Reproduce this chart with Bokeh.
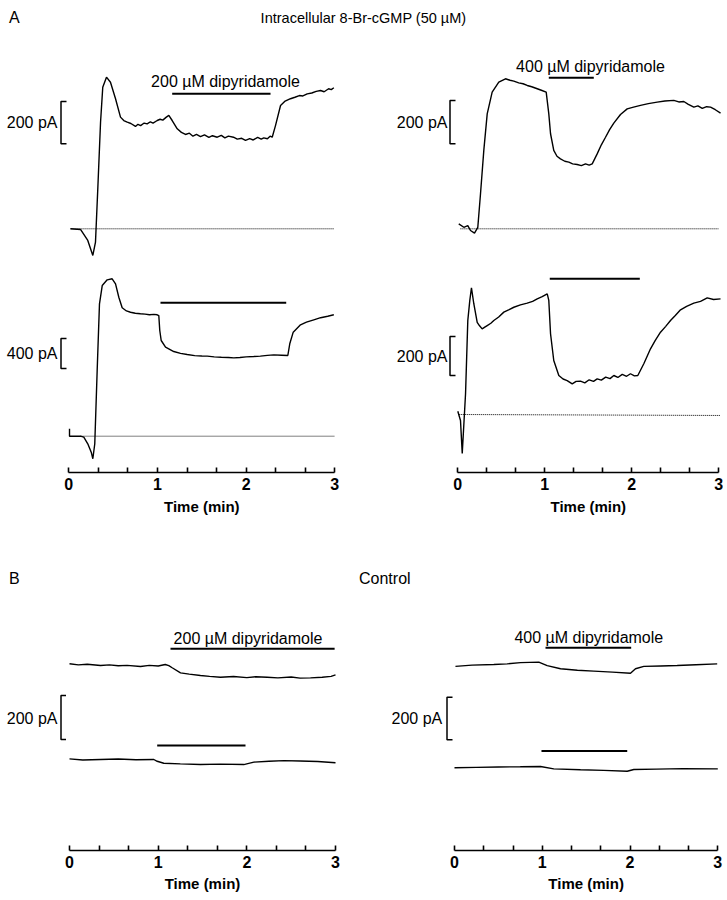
from bokeh.plotting import figure
from bokeh.models import Range1d, Label, FixedTicker
from bokeh.layouts import column, row
from bokeh.embed import file_html
from bokeh.resources import INLINE

# ---------------- data: time (min), current (pA) ----------------
# A, top-left cell (200 uM dipyridamole)
tl_t = [0.019, 0.132, 0.214, 0.271, 0.301, 0.327, 0.358, 0.383, 0.425, 0.470, 0.527, 0.583,
        0.62, 0.659, 0.70, 0.752, 0.78, 0.81, 0.85, 0.884, 0.92, 0.95, 0.997, 1.03, 1.06, 1.10,
        1.128, 1.166, 1.223, 1.27, 1.316, 1.36, 1.40, 1.44, 1.485, 1.53, 1.58, 1.62, 1.674,
        1.72, 1.76, 1.80, 1.857, 1.90, 1.95, 1.993, 2.04, 2.08, 2.13, 2.17, 2.199, 2.24, 2.27,
        2.294, 2.331, 2.388, 2.44, 2.500, 2.55, 2.60, 2.64, 2.689, 2.74, 2.79, 2.839, 2.88,
        2.93, 2.96, 2.989]
tl_pA = [0, -3, -55, -126, -63, 189, 504, 669, 717, 693, 615, 528,
         512, 504, 498, 484, 494, 488, 500, 496, 506, 500, 512, 518, 514, 528,
         536, 512, 473, 456, 446, 452, 438, 446, 436, 444, 432, 440, 433,
         442, 430, 438, 433, 424, 428, 418, 426, 420, 432, 424, 430, 426, 438,
         433, 488, 583, 604, 615, 622, 630, 628, 638, 642, 650, 654, 648,
         662, 658, 667]
tl_base_t = [0.02, 2.99]
tl_drug_t = [1.166, 2.275]

# A, top-right cell (400 uM dipyridamole)
tr_t = [0.011, 0.069, 0.115, 0.146, 0.192, 0.230, 0.261, 0.299, 0.338, 0.395, 0.471, 0.548,
        0.60, 0.644, 0.70, 0.75, 0.798, 0.85, 0.913, 0.96, 1.016, 1.046, 1.066, 1.103, 1.140,
        1.180, 1.23, 1.276, 1.32, 1.372, 1.42, 1.468, 1.51, 1.545, 1.602, 1.650, 1.698, 1.745,
        1.793, 1.87, 1.947, 2.02, 2.100, 2.19, 2.292, 2.38, 2.483, 2.54, 2.598, 2.65, 2.713,
        2.76, 2.81, 2.86, 2.905, 2.96, 3.020]
tr_pA = [23, 7, 15, -8, -20, 7, 162, 362, 531, 631, 677, 693,
         686, 682, 674, 670, 662, 656, 647, 640, 631, 531, 439, 362, 335,
         323, 312, 308, 300, 297, 292, 300, 294, 300, 346, 388, 423, 458,
         488, 528, 554, 562, 570, 578, 585, 590, 593, 586, 588, 575, 562,
         568, 556, 564, 562, 550, 534]
tr_base_t = [0.03, 3.0]
tr_drug_t = [1.046, 1.563]

# A, bottom-left cell (200 uM dipyridamole)
bl_t = [0.008, 0.008, 0.132, 0.169, 0.214, 0.253, 0.271, 0.293, 0.320, 0.346, 0.377, 0.433,
        0.489, 0.527, 0.564, 0.602, 0.65, 0.696, 0.75, 0.808, 0.86, 0.91, 0.96, 0.997, 1.015,
        1.026, 1.042, 1.091, 1.184, 1.26, 1.335, 1.42, 1.50, 1.561, 1.64, 1.72, 1.80, 1.861,
        1.93, 2.00, 2.086, 2.16, 2.24, 2.312, 2.40, 2.470, 2.492, 2.531, 2.613, 2.68, 2.763,
        2.84, 2.92, 2.989]
bl_pA = [99, 0, 0, -13, -101, -213, -301, -101, 876, 1765, 2009, 2085,
         2099, 2032, 1853, 1712, 1670, 1653, 1640, 1632, 1628, 1620, 1625, 1619, 1609,
         1409, 1276, 1187, 1129, 1105, 1089, 1075, 1070, 1067, 1058, 1052, 1050, 1045,
         1050, 1058, 1063, 1068, 1078, 1085, 1080, 1076, 1232, 1387, 1485, 1520, 1552,
         1580, 1600, 1619]
bl_base_t = [0.132, 3.0]
bl_drug_t = [1.034, 2.452]

# A, bottom-right cell (400 uM dipyridamole)
br_t = [0.000, 0.031, 0.051, 0.089, 0.115, 0.138, 0.157, 0.184, 0.223, 0.250, 0.280, 0.310,
        0.338, 0.38, 0.414, 0.47, 0.529, 0.59, 0.644, 0.72, 0.798, 0.86, 0.913, 0.97, 1.028,
        1.046, 1.066, 1.103, 1.161, 1.21, 1.257, 1.315, 1.36, 1.410, 1.46, 1.51, 1.56, 1.602,
        1.65, 1.70, 1.75, 1.793, 1.84, 1.89, 1.94, 1.985, 2.03, 2.069, 2.138, 2.215, 2.27,
        2.330, 2.39, 2.445, 2.50, 2.560, 2.63, 2.713, 2.79, 2.867, 2.94, 3.020]
br_pA = [17, -31, -200, 106, 482, 585, 650, 568, 473, 455, 439, 448,
         456, 468, 482, 500, 525, 538, 550, 562, 571, 580, 593, 604, 619,
         585, 414, 277, 200, 182, 174, 157, 170, 171, 162, 178, 170, 183,
         176, 192, 184, 200, 190, 206, 196, 209, 198, 200, 260, 337, 380,
         422, 452, 482, 508, 537, 555, 571, 580, 598, 590, 593]
br_base_t = [0.011, 3.02]
br_base_pA = [0, -5]
br_drug_t = [1.057, 2.092]

# B, control, left (200 uM dipyridamole): upper and lower traces
bl2_up_t = [0.000, 0.10, 0.20, 0.350, 0.45, 0.55, 0.65, 0.801, 0.90, 1.00, 1.08, 1.120, 1.158,
            1.252, 1.35, 1.477, 1.58, 1.703, 1.85, 2.00, 2.10, 2.230, 2.35, 2.50, 2.60, 2.718,
            2.85, 2.95, 3.000]
bl2_up_pA = [435, 430, 433, 427, 430, 426, 428, 423, 428, 425, 432, 427, 417,
             394, 388, 382, 378, 374, 377, 372, 376, 374, 371, 375, 370, 371,
             374, 378, 385]
bl2_lo_t = [0.000, 0.15, 0.350, 0.55, 0.75, 0.951, 0.989, 1.063, 1.25, 1.477, 1.70, 1.966,
            2.079, 2.25, 2.417, 2.60, 2.80, 3.000]
bl2_lo_pA = [3, -2, 0, 2, -1, 0, -8, -17, -20, -23, -21, -23, -12, -8, -5, -7, -9, -15]
bl2_up_drug_t = [1.139, 2.99]
bl2_lo_drug_t = [0.989, 1.985]

# B, control, right (400 uM dipyridamole)
br2_up_t = [0.011, 0.20, 0.448, 0.60, 0.752, 0.960, 1.056, 1.208, 1.40, 1.587, 1.80, 2.005,
            2.062, 2.157, 2.35, 2.537, 2.75, 2.993]
br2_up_pA = [476, 482, 485, 488, 494, 496, 480, 465, 458, 454, 449, 444, 465, 476, 478, 480,
             484, 488]
br2_lo_t = [0.000, 0.25, 0.50, 0.75, 0.980, 1.131, 1.436, 1.70, 1.968, 2.043, 2.30, 2.60, 3.000]
br2_lo_pA = [0, 2, 4, 5, 6, -5, -9, -12, -16, -8, -6, -4, -5]
br2_up_drug_t = [1.037, 2.013]
br2_lo_drug_t = [0.991, 1.968]

# scale bars (pA) and ticks
scale_bars_pA = {"tl": 200, "tr": 200, "bl": 400, "br": 200, "bl2": 200, "br2": 200}
major_ticks = [0, 1, 2, 3]
minor_ticks = [1 / 3, 2 / 3, 4 / 3, 5 / 3, 7 / 3, 8 / 3]

title_text = "Intracellular 8-Br-cGMP (50 \u00b5M)"
drug_200 = "200 \u00b5M dipyridamole"
drug_400 = "400 \u00b5M dipyridamole"
axis_title = "Time (min)"

# ---------------- layout geometry (page pixels, origin at page top-left) ----------------
FONT = "Liberation Sans"
LEFT_W, RIGHT_W = 355, 368
HEAD_BOTTOM = 40
A_TOP, A_AX, A_END, A_LBL_END = 40, 472, 499, 520
B_TOP, B_AX, B_END, B_LBL_END = 520, 850, 876, 894


def xr(left, right, t0, ppm):
    return Range1d((left - t0) / ppm, (right - t0) / ppm)


def yr(base, ppu, top, bottom):
    return Range1d((base - bottom) / ppu, (base - top) / ppu)


def bare_fig(width, top, bottom, x_range):
    p = figure(width=width, height=bottom - top, x_range=x_range,
               y_range=Range1d(bottom, top), output_backend="svg", toolbar_location=None,
               title=None, min_border=0, x_axis_location=None, y_axis_location=None)
    p.grid.visible = False
    p.outline_line_color = None
    return p


def make_fig(width, top, ax, end, x_range, y_range):
    p = figure(width=width, height=end - top, x_range=x_range, y_range=y_range,
               output_backend="svg", toolbar_location=None, title=None,
               min_border_left=0, min_border_right=0, min_border_top=0,
               min_border_bottom=end - ax, y_axis_location=None)
    p.grid.visible = False
    p.outline_line_color = None
    ax_ = p.xaxis[0]
    ax_.ticker = FixedTicker(ticks=major_ticks, minor_ticks=minor_ticks)
    ax_.bounds = (0, 3)
    ax_.axis_line_width = 1.6
    ax_.major_tick_in = 5
    ax_.major_tick_out = 0
    ax_.minor_tick_in = 5
    ax_.minor_tick_out = 0
    ax_.major_tick_line_width = 1.6
    ax_.minor_tick_line_width = 1.6
    ax_.major_label_standoff = 5
    ax_.major_label_text_font = FONT
    ax_.major_label_text_font_size = "16px"
    ax_.major_label_text_font_style = "bold"
    ax_.major_label_text_color = "black"
    return p


class Panel:
    def __init__(self, p, rn, t0, ppm, base, ppu):
        self.p, self.rn, self.t0, self.ppm, self.base, self.ppu = p, rn, t0, ppm, base, ppu

    def tx(self, px):
        return (px - self.t0) / self.ppm

    def vy(self, py):
        return (self.base - py) / self.ppu

    def trace(self, t, v):
        self.p.line(t, v, line_color="black", line_width=1.4, y_range_name=self.rn)

    def baseline(self, t, v=(0, 0)):
        self.p.line(t, list(v), line_color="black", line_width=1.0, line_dash="1 1",
                    y_range_name=self.rn)

    def drug_bar(self, t, py):
        y = self.vy(py)
        self.p.line(t, [y, y], line_color="black", line_width=2.0, y_range_name=self.rn)

    def scale_bar(self, size, px_bar, px_tick, py_bottom, label, px_label, py_label):
        y0 = self.vy(py_bottom)
        xb, xt = self.tx(px_bar), self.tx(px_tick)
        self.p.line([xt, xb, xb, xt], [y0, y0, y0 + size, y0 + size], line_color="black",
                    line_width=1.5, y_range_name=self.rn)
        self.text(label, px_label, py_label, align="right")

    def text(self, s, px, py, align="center", size="16px", style="normal"):
        self.p.add_layout(Label(x=self.tx(px), y=self.vy(py), text=s, text_align=align,
                                text_baseline="middle", text_font=FONT, text_font_size=size,
                                text_font_style=style, text_color="black",
                                y_range_name=self.rn))


def axis_title_fig(width, top, bottom, x_range, py):
    p = bare_fig(width, top, bottom, x_range)
    p.add_layout(Label(x=1.5, y=py, text=axis_title, text_align="center",
                       text_baseline="middle", text_font=FONT, text_font_size="15px",
                       text_font_style="bold", text_color="black"))
    return p


# ---------------- header ----------------
head = bare_fig(LEFT_W + RIGHT_W, 0, HEAD_BOTTOM, Range1d(0, LEFT_W + RIGHT_W))
head.add_layout(Label(x=8.5, y=17, text="A", text_align="left", text_baseline="middle",
                      text_font=FONT, text_font_size="16px", text_color="black"))
head.add_layout(Label(x=363, y=17, text=title_text, text_align="center",
                      text_baseline="middle", text_font=FONT,
                      text_font_size="14.5px", text_color="black"))

# ---------------- section A ----------------
TL = dict(t0=68.3, ppm=88.67, base=228.3, ppu=42.3 / 200)
BLp = dict(t0=68.3, ppm=88.67, base=435.7, ppu=30.0 / 400)
TR = dict(t0=457.3, ppm=87.0, base=228.3, ppu=43.3 / 200)
BRp = dict(t0=457.3, ppm=87.0, base=414.0, ppu=39.0 / 200)

xa_l = xr(0, LEFT_W, TL["t0"], TL["ppm"])
xa_r = xr(LEFT_W, LEFT_W + RIGHT_W, TR["t0"], TR["ppm"])
pa_l = make_fig(LEFT_W, A_TOP, A_AX, A_END, xa_l, yr(TL["base"], TL["ppu"], A_TOP, A_AX))
pa_l.extra_y_ranges = {"bl": yr(BLp["base"], BLp["ppu"], A_TOP, A_AX)}
pa_r = make_fig(RIGHT_W, A_TOP, A_AX, A_END, xa_r, yr(TR["base"], TR["ppu"], A_TOP, A_AX))
pa_r.extra_y_ranges = {"br": yr(BRp["base"], BRp["ppu"], A_TOP, A_AX)}

tl = Panel(pa_l, "default", **TL)
tl.trace(tl_t, tl_pA)
tl.baseline(tl_base_t)
tl.drug_bar(tl_drug_t, 93.3)
tl.text(drug_200, 225, 81)
tl.scale_bar(scale_bars_pA["tl"], 60.5, 66, 143.3, "200 pA", 57, 122)

bl = Panel(pa_l, "bl", **BLp)
bl.trace(bl_t, bl_pA)
bl.baseline(bl_base_t)
bl.drug_bar(bl_drug_t, 302.3)
bl.scale_bar(scale_bars_pA["bl"], 60.5, 66, 368, "400 pA", 57, 353)

tr = Panel(pa_r, "default", **TR)
tr.trace(tr_t, tr_pA)
tr.baseline(tr_base_t)
tr.drug_bar(tr_drug_t, 77.3)
tr.text(drug_400, 590, 66)
tr.scale_bar(scale_bars_pA["tr"], 449.5, 455, 143.3, "200 pA", 447, 122)

br = Panel(pa_r, "br", **BRp)
br.trace(br_t, br_pA)
br.baseline(br_base_t, br_base_pA)
br.drug_bar(br_drug_t, 278.3)
br.scale_bar(scale_bars_pA["br"], 449.5, 455, 375, "200 pA", 447, 356)

la_l = axis_title_fig(LEFT_W, A_END, A_LBL_END, xa_l, 506)
la_r = axis_title_fig(RIGHT_W, A_END, A_LBL_END, xa_r, 506)

# ---------------- section B ----------------
BL2 = dict(t0=69.0, ppm=88.67, base=759.0, ppu=44.0 / 200)
BR2 = dict(t0=454.0, ppm=87.77, base=767.3, ppu=42.6 / 200)

xb_l = xr(0, LEFT_W, BL2["t0"], BL2["ppm"])
xb_r = xr(LEFT_W, LEFT_W + RIGHT_W, BR2["t0"], BR2["ppm"])
pb_l = make_fig(LEFT_W, B_TOP, B_AX, B_END, xb_l, yr(BL2["base"], BL2["ppu"], B_TOP, B_AX))
pb_r = make_fig(RIGHT_W, B_TOP, B_AX, B_END, xb_r, yr(BR2["base"], BR2["ppu"], B_TOP, B_AX))

b1 = Panel(pb_l, "default", **BL2)
b1.trace(bl2_up_t, bl2_up_pA)
b1.trace(bl2_lo_t, bl2_lo_pA)
b1.drug_bar(bl2_up_drug_t, 648.3)
b1.drug_bar(bl2_lo_drug_t, 745)
b1.text(drug_200, 247.5, 637.7)
b1.scale_bar(scale_bars_pA["bl2"], 60.5, 65.5, 739, "200 pA", 57, 718)
b1.text("B", 8.5, 578, align="left")

b2 = Panel(pb_r, "default", **BR2)
b2.trace(br2_up_t, br2_up_pA)
b2.trace(br2_lo_t, br2_lo_pA)
b2.drug_bar(br2_up_drug_t, 647.3)
b2.drug_bar(br2_lo_drug_t, 750.5)
b2.text(drug_400, 588.3, 636.7)
b2.scale_bar(scale_bars_pA["br2"], 446.5, 452, 739.3, "200 pA", 441.7, 718.3)
b2.text("Control", 358.5, 578, align="left")

lb_l = axis_title_fig(LEFT_W, B_END, B_LBL_END, xb_l, 883)
lb_r = axis_title_fig(RIGHT_W, B_END, B_LBL_END, xb_r, 883)

layout = column(head, row(pa_l, pa_r), row(la_l, la_r), row(pb_l, pb_r), row(lb_l, lb_r))
open("out.html", "w").write(file_html(layout, INLINE))
